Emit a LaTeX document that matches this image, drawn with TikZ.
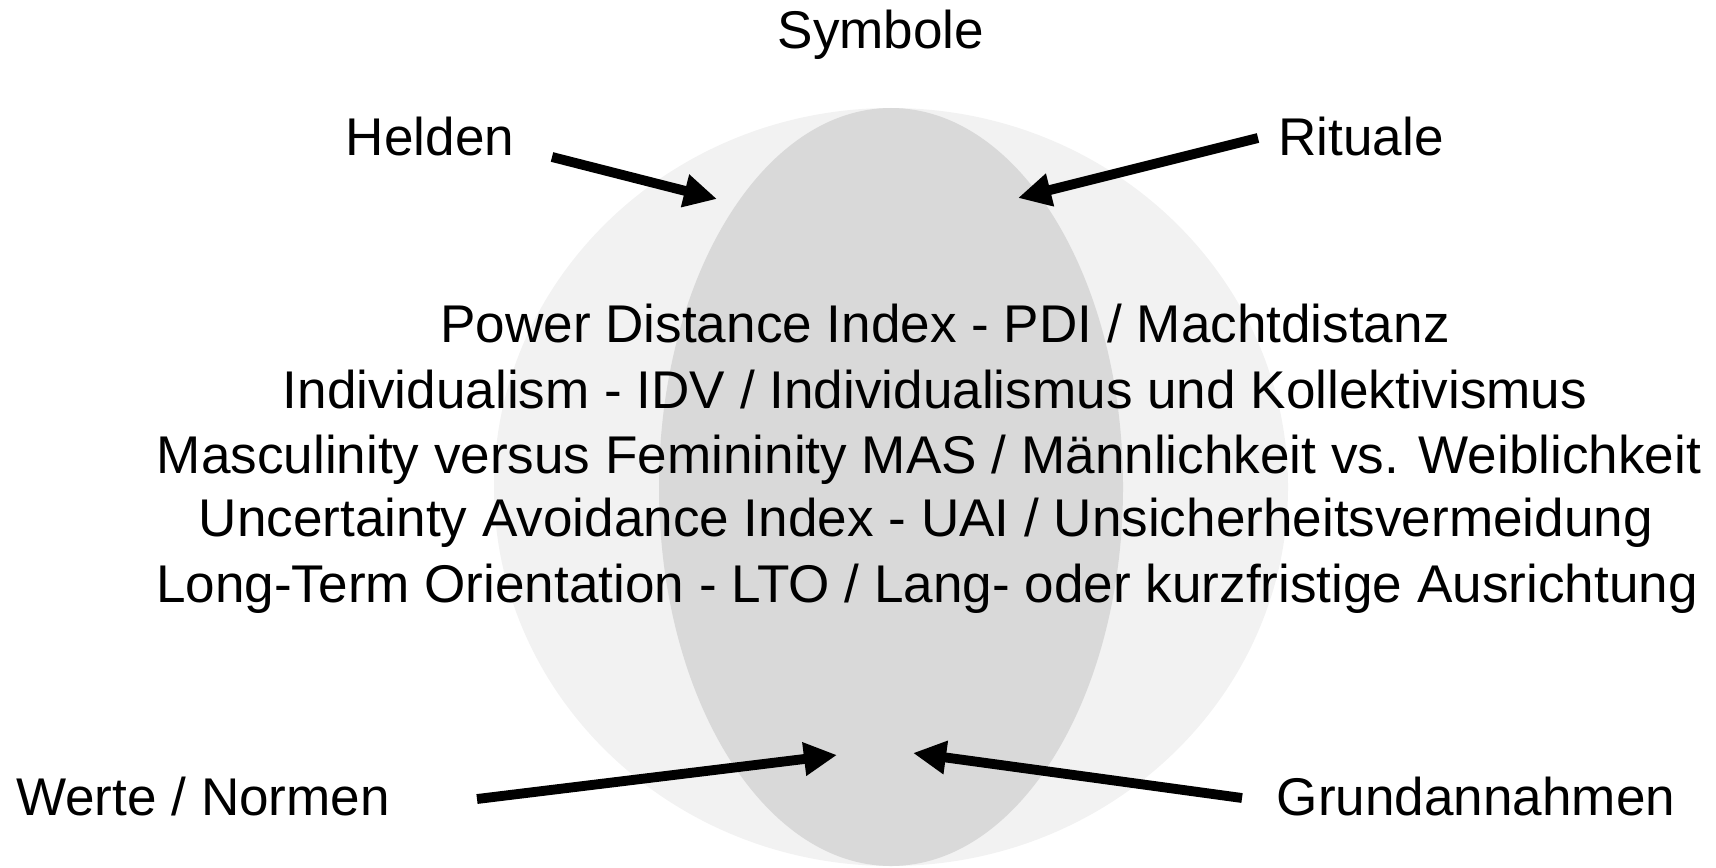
\documentclass[tikz,border=0pt]{standalone}
\usepackage{fontspec}
\setmainfont{Liberation Sans}
\usetikzlibrary{arrows.meta}

\begin{document}
\begin{tikzpicture}[x=0.01cm, y=-0.01cm]
    \tikzset{lbl/.style = {anchor=base, inner sep=0pt, font=\fontsize{15.1}{18}\selectfont}}
    \tikzset{edge/.style = {-{Triangle[length=9.4pt, width=9pt]}, line width=2.8pt}}
    \definecolor{outergray}{HTML}{F2F2F2}
    \definecolor{innergray}{HTML}{D9D9D9}

    \useasboundingbox (0,0) rectangle (1716,867);

    % ellipses
    \fill[outergray] (891,487) ellipse [x radius=397, y radius=379];
    \fill[innergray] (891,487) ellipse [x radius=232, y radius=379];

    % labels
    \node[lbl] (sym) at (881,49) {Symbole};
    \node[lbl] (hel) at (430,156) {Helden};
    \node[lbl] (rit) at (1361,156) {Rituale};
    \node[lbl] (wer) at (203,815) {Werte / Normen};
    \node[lbl] (gru) at (1476,815) {Grundannahmen};

    % dimensions
    \node[lbl] (pdi) at (945,342) {Power Distance Index - PDI / Machtdistanz};
    \node[lbl] (idv) at (935,408) {Individualism - IDV / Individualismus und Kollektivismus};
    \node[lbl] (mas) at (929,473) {Masculinity versus Femininity MAS / Männlichkeit vs. Weiblichkeit};
    \node[lbl] (uai) at (926,536) {Uncertainty Avoidance Index - UAI / Unsicherheitsvermeidung};
    \node[lbl] (lto) at (927,602) {Long-Term Orientation - LTO / Lang- oder kurzfristige Ausrichtung};

    % arrow ends
    \coordinate (helA) at (552,157);
    \coordinate (helB) at (717,199);
    \coordinate (ritA) at (1258,138);
    \coordinate (ritB) at (1018,198);
    \coordinate (werA) at (477,799);
    \coordinate (werB) at (837,755);
    \coordinate (gruA) at (1242,798);
    \coordinate (gruB) at (913,753);

    % edges
    \draw[edge] (helA) to (helB);
    \draw[edge] (ritA) to (ritB);
    \draw[edge] (werA) to (werB);
    \draw[edge] (gruA) to (gruB);
\end{tikzpicture}
\end{document}
